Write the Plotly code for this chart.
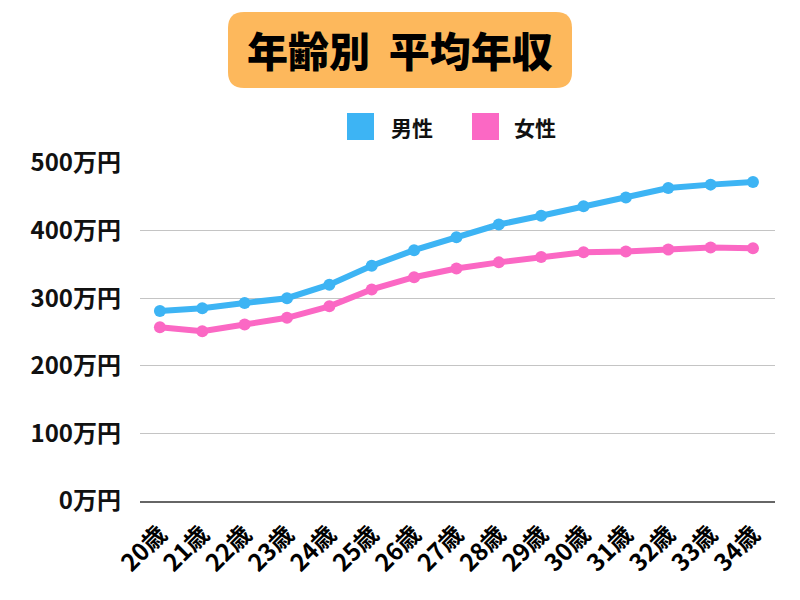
import plotly.graph_objects as go

ages = ["20歳", "21歳", "22歳", "23歳", "24歳", "25歳", "26歳", "27歳",
        "28歳", "29歳", "30歳", "31歳", "32歳", "33歳", "34歳"]
male = [281, 285, 293, 300, 320, 348, 371, 390, 409, 422, 436, 449, 463, 468, 472]
female = [257, 251, 261, 271, 288, 313, 331, 344, 353, 361, 368, 369, 372, 375, 374]
y_ticks = [0, 100, 200, 300, 400, 500]
y_tick_labels = [f"{v}万円" for v in y_ticks]

title_text = "年齢別  平均年収"
legend_names = ["男性", "女性"]
BLUE = "#3DB4F4"
PINK = "#FB68C4"
ORANGE = "#FDB85C"

OFF = 8  # page body margin
W, H = 800, 600
ML, MT = 140 - OFF, 163 - OFF
MR = W - (775 - OFF)
MB = H - (501 - OFF)
PW, PH = W - ML - MR, H - MT - MB


def px(x):
    return (x - OFF - ML) / PW


def py(y):
    return (H - MB - (y - OFF)) / PH


FONT = "Noto Sans CJK JP"

fig = go.Figure()
fig.add_trace(go.Scatter(x=ages, y=male, mode="lines+markers", name=legend_names[0],
                         line=dict(color=BLUE, width=6),
                         marker=dict(color=BLUE, size=12), showlegend=False))
fig.add_trace(go.Scatter(x=ages, y=female, mode="lines+markers", name=legend_names[1],
                         line=dict(color=PINK, width=6),
                         marker=dict(color=PINK, size=12), showlegend=False))

# rounded title box
x0, x1, y0, y1 = px(228), px(572), py(88), py(12)
rx, ry = 16 / PW, 16 / PH
path = (f"M {x0+rx},{y0} L {x1-rx},{y0} Q {x1},{y0} {x1},{y0+ry} "
        f"L {x1},{y1-ry} Q {x1},{y1} {x1-rx},{y1} L {x0+rx},{y1} "
        f"Q {x0},{y1} {x0},{y1-ry} L {x0},{y0+ry} Q {x0},{y0} {x0+rx},{y0} Z")
shapes = [dict(type="path", path=path, xref="paper", yref="paper",
               fillcolor=ORANGE, line=dict(width=0), layer="below")]

# legend squares
for (sx0, sx1), col in [((347, 374), BLUE), ((472, 499), PINK)]:
    shapes.append(dict(type="rect", xref="paper", yref="paper",
                       x0=px(sx0), x1=px(sx1), y0=py(140), y1=py(113),
                       fillcolor=col, line=dict(width=0)))

annotations = [
    dict(text=title_text, x=px(400), y=py(49), xref="paper", yref="paper",
         showarrow=False, xanchor="center", yanchor="middle",
         font=dict(family=FONT, size=41, color="#000", weight=900)),
    dict(text=legend_names[0], x=px(389), y=py(127), xref="paper", yref="paper",
         showarrow=False, xanchor="left", yanchor="middle",
         font=dict(family=FONT, size=21, color="#111", weight="bold")),
    dict(text=legend_names[1], x=px(512), y=py(127), xref="paper", yref="paper",
         showarrow=False, xanchor="left", yanchor="middle",
         font=dict(family=FONT, size=21, color="#111", weight="bold")),
]

fig.update_layout(
    width=W, height=H,
    margin=dict(l=ML, r=MR, t=MT, b=MB, autoexpand=False),
    paper_bgcolor="white", plot_bgcolor="white",
    shapes=shapes, annotations=annotations,
    font=dict(family=FONT, color="#111"),
)
fig.update_xaxes(type="category", range=[-0.47, 14.52], showgrid=False,
                 showline=True, linecolor="#666", linewidth=1.5,
                 ticks="", tickangle=-45, ticklabelstandoff=8,
                 tickfont=dict(family=FONT, size=24, color="#000", weight="bold"))
fig.update_yaxes(range=[0, 500], tickvals=y_ticks, ticktext=y_tick_labels,
                 showgrid=True, gridcolor="#c4c4c4", gridwidth=1.2,
                 zeroline=False, showline=False, ticks="",
                 ticklabelstandoff=18,
                 tickfont=dict(family=FONT, size=24, color="#111", weight="bold"))

fig.write_html("out.html")
